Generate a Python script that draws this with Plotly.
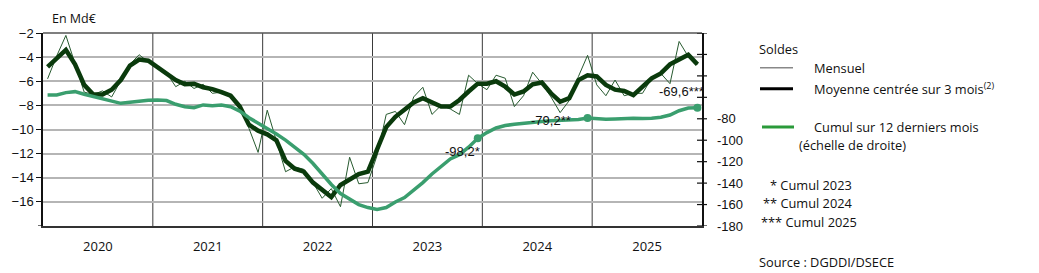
import plotly.graph_objects as go

# ---------------- data ----------------
years = ["2020", "2021", "2022", "2023", "2024", "2025"]
months = list(range(72))  # Jan 2020 .. Dec 2025

mensuel = [
    -5.8, -3.9, -2.2, -4.5, -6.9, -7.1, -6.8, -7.3, -6.0, -4.6, -3.8, -4.4,
    -4.7, -5.3, -6.45, -6.0, -6.6, -6.25, -7.0, -6.9, -7.3, -8.1, -9.9, -11.9,
    -8.4, -11.0, -13.5, -13.1, -13.3, -14.4, -15.7, -14.9, -16.4, -12.3, -14.5, -14.4,
    -12.15, -8.75, -8.5, -9.6, -7.3, -6.5, -8.75, -8.0, -8.3, -8.75, -5.5, -6.2,
    -6.7, -5.5, -5.75, -8.1, -7.2, -5.25, -6.2, -7.3, -8.6, -7.6, -5.6, -3.85,
    -6.3, -7.2, -5.9, -7.2, -7.0, -7.0, -5.75, -5.35, -6.2, -2.7, -3.95, -4.6,
]

moyenne3 = [
    -4.8, -4.1, -3.4, -4.6, -6.3, -7.1, -7.1, -6.7, -5.9, -4.7, -4.2, -4.3,
    -4.8, -5.4, -5.9, -6.25, -6.2, -6.5, -6.65, -6.9, -7.2, -8.1, -9.6, -10.1,
    -10.4, -10.9, -12.6, -13.25, -13.5, -14.4, -15.05, -15.6, -14.6, -14.2, -13.7, -13.5,
    -11.7, -9.8, -8.95, -8.4, -7.75, -7.4, -7.8, -8.1, -8.1, -7.55, -6.85, -6.2,
    -6.2, -6.0, -6.45, -7.1, -6.85, -6.25, -6.1, -7.0, -7.7, -7.4, -5.9, -5.5,
    -5.6, -6.3, -6.7, -6.8, -7.15, -6.45, -5.75, -5.35, -4.6, -4.2, -3.8, -4.6,
]

cumul12 = [
    -57.8, -57.8, -55.6, -54.7, -57.1, -59.4, -60.9, -63.4, -65.6, -64.6, -63.4, -62.8,
    -62.5, -63.0, -66.5, -68.7, -69.7, -67.1, -67.8, -67.1, -68.7, -72.8, -79.0, -84.0,
    -88.9, -94.2, -99.9, -106.7, -113.2, -121.7, -132.0, -141.3, -149.7, -155.0, -160.0, -162.8,
    -164.5, -162.8, -157.6, -153.5, -147.0, -139.5, -131.5, -124.0, -117.5, -113.5, -106.5, -98.2,
    -92.9, -88.6, -86.3, -85.1, -84.0, -83.3, -82.6, -81.8, -81.5, -81.2, -80.7, -79.2,
    -80.0, -80.5, -80.3, -79.8, -79.6, -79.8, -79.6, -78.5, -76.5, -72.5, -70.0, -69.6,
]

marked_idx = [47, 59, 71]
marked_labels = ["-98,2*", "-79,2**", "-69,6***"]

left_ticks = [-16, -14, -12, -10, -8, -6, -4, -2]
left_bottom = -18
right_ticks = [-180, -160, -140, -120, -100, -80, -60, -40, -20, 0]
right_labelled = [-180, -160, -140, -120, -100, -80]

# ---------------- layout geometry ----------------
W, H = 1039, 273
L, R = 43, 702
T, B = 33.3, 225.7


def px_x(p):
    return (p - L) / (R - L)


def px_y(p):
    return (B - p) / (B - T)


THIN = "#275a2f"
THICK = "#0a3a0c"
CUM = "#3a9e6e"
FONT_NUM = "Liberation Sans"
FONT_TXT = "Open Sans"

fig = go.Figure()

fig.add_trace(go.Scatter(
    x=months, y=mensuel, mode="lines", name="Mensuel",
    line=dict(color=THIN, width=1), showlegend=False, hoverinfo="skip"))
fig.add_trace(go.Scatter(
    x=months, y=moyenne3, mode="lines", name="Moyenne",
    line=dict(color=THICK, width=4.5), showlegend=False, hoverinfo="skip"))
fig.add_trace(go.Scatter(
    x=months, y=cumul12, mode="lines", name="Cumul", yaxis="y2",
    line=dict(color=CUM, width=3.5), showlegend=False, hoverinfo="skip"))
fig.add_trace(go.Scatter(
    x=[months[i] for i in marked_idx], y=[cumul12[i] for i in marked_idx],
    mode="markers", yaxis="y2", marker=dict(color=CUM, size=8),
    showlegend=False, hoverinfo="skip"))

shapes = []
# year separators
for k in range(1, 6):
    shapes.append(dict(type="line", xref="x", yref="paper", x0=12 * k - 0.5, x1=12 * k - 0.5,
                       y0=0, y1=1, line=dict(color="#3a3a3a", width=1), layer="below"))
# top border
shapes.append(dict(type="line", xref="paper", yref="paper", x0=0, x1=1, y0=1, y1=1,
                   line=dict(color="#555555", width=1.5)))
# bottom-left tick at -18
shapes.append(dict(type="line", xref="paper", yref="y", x0=px_x(38), x1=px_x(43),
                   y0=left_bottom, y1=left_bottom, line=dict(color="#111111", width=1.2)))
# right axis crossing ticks
for v in right_ticks:
    shapes.append(dict(type="line", xref="paper", yref="y2", x0=px_x(697), x1=px_x(707),
                       y0=v, y1=v, line=dict(color="#111111", width=1.2)))

annotations = []
# data labels on cumul
offsets = [(4, -13), (-15, -3), (9, 16)]
for i, lab, (dx, dy) in zip(marked_idx, marked_labels, offsets):
    annotations.append(dict(x=months[i], y=cumul12[i], xref="x", yref="y2", text=lab,
                            showarrow=False, xanchor="right", yanchor="middle",
                            xshift=dx, yshift=dy,
                            font=dict(family=FONT_NUM, size=13, color="#111111")))

# right axis labels
for v in right_labelled:
    annotations.append(dict(x=px_x(715), y=v, xref="paper", yref="y2", text=str(v),
                            showarrow=False, xanchor="left", yanchor="middle",
                            font=dict(family=FONT_NUM, size=13, color="#111111")))

# unit label
annotations.append(dict(x=px_x(50), y=px_y(19), xref="paper", yref="paper", text="En Md€",
                        showarrow=False, xanchor="left", yanchor="middle",
                        font=dict(family=FONT_TXT, size=12.5, color="#111111")))


def txt(x, y, s, size=12.8):
    annotations.append(dict(x=px_x(x), y=px_y(y), xref="paper", yref="paper", text=s,
                            showarrow=False, xanchor="left", yanchor="middle",
                            font=dict(family=FONT_TXT, size=size, color="#111111")))


txt(757, 49, "Soldes")
txt(812, 68, "Mensuel")
txt(812, 89, "Moyenne centrée sur 3 mois<sup>(2)</sup>")
txt(812, 127, "Cumul sur 12 derniers mois")
txt(797, 145, "(échelle de droite)")
txt(768, 185, "* Cumul 2023")
txt(761, 203, "** Cumul 2024")
txt(759, 222, "*** Cumul 2025")
txt(757, 262, "Source : DGDDI/DSECE")

# legend line samples
shapes.append(dict(type="line", xref="paper", yref="paper", x0=px_x(760), x1=px_x(793),
                   y0=px_y(68), y1=px_y(68), line=dict(color="#888888", width=1.5)))
shapes.append(dict(type="line", xref="paper", yref="paper", x0=px_x(760), x1=px_x(793),
                   y0=px_y(89), y1=px_y(89), line=dict(color="#000000", width=3)))
shapes.append(dict(type="line", xref="paper", yref="paper", x0=px_x(762), x1=px_x(794),
                   y0=px_y(127), y1=px_y(127), line=dict(color="#2a9a3a", width=3)))

fig.update_layout(
    width=W, height=H, autosize=False,
    margin=dict(l=L, r=W - R, t=T, b=H - B, pad=0),
    paper_bgcolor="white", plot_bgcolor="white",
    showlegend=False,
    xaxis=dict(range=[-0.5, 71.5], tickvals=[5.5 + 12 * k for k in range(6)], ticktext=years,
               showgrid=False, zeroline=False, ticks="", showline=True,
               linecolor="#333333", linewidth=1.5,
               tickfont=dict(family=FONT_TXT, size=13, color="#111111"),
               ticklabelstandoff=8),
    yaxis=dict(range=[-18, -2], tickvals=left_ticks,
               showgrid=True, gridcolor="#b5b5b5", gridwidth=1.5, zeroline=False,
               showline=True, linecolor="#111111", linewidth=1.5,
               ticks="outside", ticklen=5, tickcolor="#111111", tickwidth=1.2,
               tickfont=dict(family=FONT_NUM, size=13, color="#111111")),
    yaxis2=dict(range=[-180, 0], overlaying="y", side="right", tickvals=right_ticks,
                showticklabels=False, showgrid=False, zeroline=False,
                showline=True, linecolor="#111111", linewidth=1.5, ticks=""),
    shapes=shapes,
    annotations=annotations,
)

fig.write_html("out.html")
